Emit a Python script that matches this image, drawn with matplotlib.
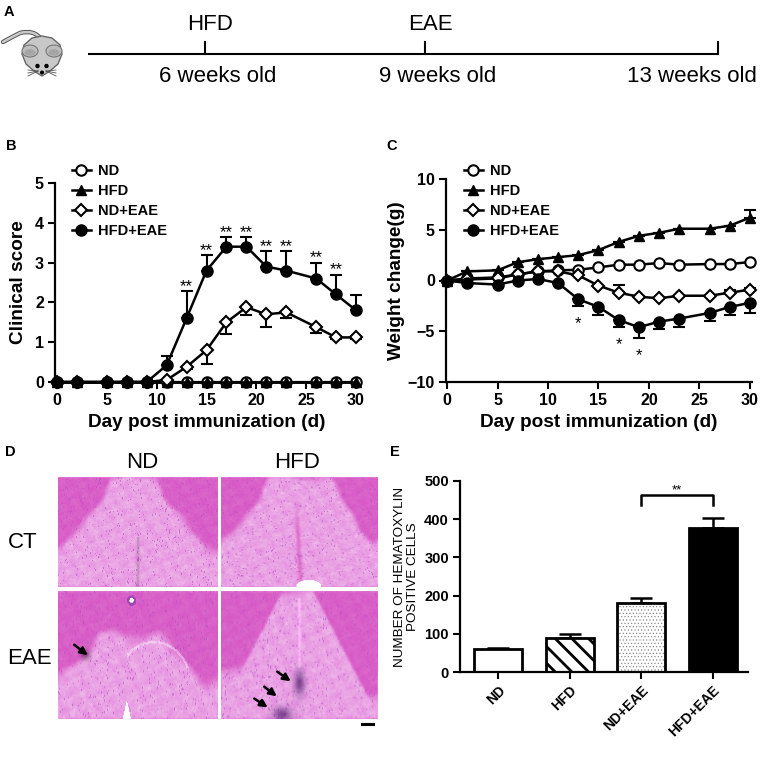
import numpy as np
import matplotlib
matplotlib.use("Agg")
import matplotlib.pyplot as plt
from matplotlib.lines import Line2D
from matplotlib.patches import Ellipse, Polygon, Circle, FancyArrowPatch
from matplotlib.path import Path
from matplotlib.patches import PathPatch

plt.rcParams['font.family'] = ['Liberation Sans', 'DejaVu Sans']

# ---------------- data ----------------
days = [0, 2, 5, 7, 9, 11, 13, 15, 17, 19, 21, 23, 26, 28, 30]
series_names = ["ND", "HFD", "ND+EAE", "HFD+EAE"]

# Panel B: clinical score
score_nd = [0] * 15
score_hfd = [0] * 15
score_nd_eae = [0, 0, 0, 0, 0, 0.05, 0.38, 0.8, 1.5, 1.88, 1.7, 1.75, 1.38, 1.12, 1.12]
score_nd_eae_err = [0, 0, 0, 0, 0, 0, 0.05, 0.35, 0.3, 0.2, 0.32, 0.15, 0.15, 0.05, 0.05]
score_hfd_eae = [0, 0, 0, 0, 0, 0.42, 1.6, 2.8, 3.4, 3.4, 2.9, 2.8, 2.6, 2.2, 1.8]
score_hfd_eae_err = [0, 0, 0, 0, 0, 0.23, 0.68, 0.38, 0.25, 0.25, 0.4, 0.5, 0.4, 0.5, 0.38]
score_sig_days = [13, 15, 17, 19, 21, 23, 26, 28]

# Panel C: weight change (g)
wt_nd = [0, 0.2, 0.3, 0.6, 0.9, 1.0, 1.06, 1.29, 1.56, 1.56, 1.72, 1.56, 1.62, 1.62, 1.82]
wt_hfd = [0, 0.9, 1.0, 1.8, 2.1, 2.3, 2.5, 3.0, 3.8, 4.4, 4.7, 5.1, 5.1, 5.4, 6.2]
wt_hfd_err = [0, 0, 0, 0, 0, 0, 0, 0, 0, 0, 0, 0, 0, 0, 0.7]
wt_nd_eae = [0, 0.1, 0.2, 0.6, 0.9, 0.9, 0.5, -0.5, -1.2, -1.6, -1.75, -1.5, -1.5, -1.2, -0.9]
wt_nd_eae_err = [0, 0, 0, 0, 0, 0, 0, 0, 0.75, 0, 0, 0, 0, 0.3, 0.2]
wt_hfd_eae = [0, -0.25, -0.4, 0, 0.15, -0.25, -1.85, -2.6, -3.9, -4.6, -4.05, -3.75, -3.2, -2.6, -2.2]
wt_hfd_eae_err = [0, 0, 0, 0, 0, 0, 0.65, 0.8, 0.7, 1.1, 0.75, 0.85, 0.8, 0.8, 1.05]
wt_sig_days = [13, 17, 19]

# Panel E: hematoxylin positive cells
e_cats = ["ND", "HFD", "ND+EAE", "HFD+EAE"]
e_vals = [60, 90, 180, 378]
e_err = [3, 9, 15, 26]
e_sig_pair = (2, 3)
e_sig_y = 463
e_sig_leg = 437

# Panel A: timeline
tl_weeks = [6, 9, 13]
tl_top = ["HFD", "EAE", ""]
tl_bottom = ["6 weeks old", "9 weeks old", "13 weeks old"]
tl_start = 4.4

# ---------------- figure ----------------
W, H = 762, 757
fig = plt.figure(figsize=(W / 100, H / 100), dpi=100)


def add_ax(x0, y0, x1, y1):
    return fig.add_axes([x0 / W, 1 - y1 / H, (x1 - x0) / W, (y1 - y0) / H])


def ftext(x, y, s, **kw):
    fig.text(x / W, 1 - y / H, s, **kw)


def fxy(x, y):
    return (x / W, 1 - y / H)


# panel letters
for lab, (x, y) in zip("ABCDE", [(4, 12), (6, 146), (386, 146), (5, 452), (390, 452)]):
    ftext(x, y, lab, fontsize=10.5, fontweight='bold', va='center', ha='left')

# ---------------- Panel A ----------------
axA = add_ax(0, 0, 762, 130)
px_per_week = (718 - 205) / 7.0
axA.set_xlim(6 - 205 / px_per_week, 6 + (762 - 205) / px_per_week)
axA.set_ylim(130, 0)
axA.axis('off')
axA.plot([tl_start, tl_weeks[-1]], [54, 54], color='black', lw=1.5, solid_capstyle='butt')
for wk, top, bot in zip(tl_weeks, tl_top, tl_bottom):
    axA.plot([wk, wk], [42, 54], color='black', lw=1.5)
    if top:
        axA.text(wk + 0.07, 24, top, fontsize=16, ha='center', va='center')
    if wk == tl_weeks[-1]:
        axA.text(wk + 0.53, 77, bot, fontsize=16, ha='right', va='center')
    else:
        axA.text(wk + 0.17, 77, bot, fontsize=16, ha='center', va='center')

# mouse icon
axM = add_ax(0, 28, 66, 82)
axM.set_xlim(0, 66)
axM.set_ylim(82, 28)
axM.axis('off')
tail = Path([(42, 40), (34, 29), (20, 33), (10, 38), (3, 42)],
            [Path.MOVETO, Path.CURVE3, Path.CURVE3, Path.CURVE3, Path.CURVE3])
axM.add_patch(PathPatch(tail, fill=False, lw=3.2, color='#555555', capstyle='round'))
axM.add_patch(PathPatch(tail, fill=False, lw=1.8, color='#c9c9c9', capstyle='round'))
body = Polygon([(22, 54), (24, 45), (32, 38), (42, 36), (52, 38), (60, 45), (62, 54),
                (58, 64), (50, 71), (42, 76), (34, 71), (26, 64)], closed=True,
               facecolor='#c8c8c8', edgecolor='#666666', lw=1.0)
axM.add_patch(body)
for cx in (30, 54):
    axM.add_patch(Ellipse((cx, 51), 16, 12, facecolor='#bdbdbd', edgecolor='#777777', lw=0.8))
    axM.add_patch(Ellipse((cx, 52.5), 11, 6.5, facecolor='#a5a5a5', edgecolor='none'))
for cx in (37.5, 46.5):
    axM.add_patch(Circle((cx, 66), 1.5, color='black'))
axM.add_patch(Circle((42, 72.5), 1.3, color='black'))
for sgn in (-1, 1):
    for dy in (-3, 0, 3):
        axM.plot([42 + sgn * 4, 42 + sgn * 14], [71, 71 + dy + 2], color='#555555', lw=0.6)

# ---------------- line panel helper ----------------
styles = {
    "ND": dict(marker='o', mfc='white', mec='black', ms=7.5, mew=1.5),
    "HFD": dict(marker='^', mfc='black', mec='black', ms=7.5, mew=1.0),
    "ND+EAE": dict(marker='D', mfc='white', mec='black', ms=6.5, mew=1.5),
    "HFD+EAE": dict(marker='o', mfc='black', mec='black', ms=8, mew=1.0),
}


def style_axes(ax):
    for s in ('top', 'right'):
        ax.spines[s].set_visible(False)
    for s in ('left', 'bottom'):
        ax.spines[s].set_linewidth(1.6)
    ax.tick_params(direction='out', length=5, width=1.5, labelsize=11.5, pad=3)
    for lab in ax.get_xticklabels() + ax.get_yticklabels():
        lab.set_fontweight('bold')


def draw_series(ax, name, y, err=None, up=True):
    st = styles[name]
    if err is not None:
        e = np.array(err, dtype=float)
        z = np.zeros_like(e)
        yerr = [z, e] if up else [e, z]
        ax.errorbar(days, y, yerr=yerr, fmt='none', ecolor='black', elinewidth=1.5,
                    capsize=4, capthick=1.5, zorder=2, clip_on=False)
    ax.plot(days, y, color='black', lw=1.8, zorder=3, clip_on=False, **st)


def add_legend(ax, x, y):
    handles = [Line2D([], [], color='black', lw=1.8, **styles[n]) for n in series_names]
    leg = ax.legend(handles, series_names, loc='upper left', bbox_to_anchor=fxy(x, y),
                    bbox_transform=fig.transFigure, frameon=False, handlelength=1.3,
                    handletextpad=0.45, labelspacing=0.42, borderpad=0, borderaxespad=0,
                    prop=dict(size=10.5, weight='bold'))
    leg.set_zorder(10)


# ---------------- Panel B ----------------
axB = add_ax(55, 183, 359, 382)
draw_series(axB, "ND", score_nd)
draw_series(axB, "HFD", score_hfd)
draw_series(axB, "ND+EAE", score_nd_eae, score_nd_eae_err, up=False)
draw_series(axB, "HFD+EAE", score_hfd_eae, score_hfd_eae_err, up=True)
axB.set_xlim(-0.2, 30.3)
axB.set_ylim(0, 5)
axB.set_xticks([0, 5, 10, 15, 20, 25, 30])
axB.set_yticks([0, 1, 2, 3, 4, 5])
style_axes(axB)
axB.set_xlabel("Day post immunization (d)", fontsize=13.7, fontweight='bold', labelpad=4)
axB.set_ylabel("Clinical score", fontsize=13.7, fontweight='bold', labelpad=6)
for d in score_sig_days:
    i = days.index(d)
    axB.annotate("**", (d, score_hfd_eae[i] + score_hfd_eae_err[i]), xytext=(0, 0),
                 textcoords='offset points', ha='center', va='baseline', fontsize=12)
add_legend(axB, 72, 164)

# ---------------- Panel C ----------------
axC = add_ax(446, 179, 752, 382)
draw_series(axC, "ND", wt_nd)
draw_series(axC, "HFD", wt_hfd, wt_hfd_err, up=True)
draw_series(axC, "ND+EAE", wt_nd_eae, wt_nd_eae_err, up=True)
draw_series(axC, "HFD+EAE", wt_hfd_eae, wt_hfd_eae_err, up=False)
axC.set_xlim(-0.1, 30.2)
axC.set_ylim(-10, 10)
axC.set_xticks([0, 5, 10, 15, 20, 25, 30])
axC.set_yticks([-10, -5, 0, 5, 10])
style_axes(axC)
axC.set_xlabel("Day post immunization (d)", fontsize=13.7, fontweight='bold', labelpad=4)
axC.set_ylabel("Weight change(g)", fontsize=13.7, fontweight='bold', labelpad=2)
for d in wt_sig_days:
    i = days.index(d)
    axC.annotate("*", (d, wt_hfd_eae[i] - wt_hfd_eae_err[i]), xytext=(0, -16),
                 textcoords='offset points', ha='center', va='baseline', fontsize=12)
add_legend(axC, 464, 164)


# ---------------- Panel D (stained section illustrations) ----------------
def smooth(a, n=2):
    for _ in range(n):
        a = (a + np.roll(a, 1, 0) + np.roll(a, -1, 0) + np.roll(a, 1, 1) + np.roll(a, -1, 1)) / 5.0
    return a


def int_hash(ii, jj, seed):
    M = np.uint64(0xFFFFFFFF)
    h = (ii.astype(np.uint64) * np.uint64(374761393) + jj.astype(np.uint64) * np.uint64(668265263)
         + np.uint64(seed) * np.uint64(1442695041)) & M
    h = ((h ^ (h >> np.uint64(13))) * np.uint64(1274126177)) & M
    h = h ^ (h >> np.uint64(16))
    return (h % np.uint64(100003)).astype(float) / 100003.0


def tissue(kind, h=110, w=160):
    v, u = np.mgrid[0:1:h * 1j, 0:1:w * 1j]
    ii, jj = np.mgrid[0:h, 0:w]
    wav = 0.03 * np.sin(u * 17 + 1.3 * kind) + 0.02 * np.sin(v * 23)
    if kind == 0:
        b = 0.66 * np.maximum(np.clip((0.33 - u) / 0.3, 0, 1) ** 0.8,
                              np.clip((u - 0.62) / 0.3, 0, 1) ** 0.8)
    elif kind == 1:
        b = 0.6 * np.maximum(np.clip((0.3 - u) / 0.28, 0, 1) ** 0.8,
                             np.clip((u - 0.7) / 0.27, 0, 1) ** 0.8)
    elif kind == 2:
        b = 0.36 + 0.36 * np.clip((np.abs(u - 0.45) - 0.18) / 0.3, 0, 1)
    else:
        b = np.where(np.abs(u - 0.49) < 0.1 + 0.42 * v, 0.0,
                     0.62 + 0.25 * np.clip((u - 0.65) / 0.3, 0, 1))
    light = np.clip((v - b + wav) * 12 + 0.5, 0, 1)
    light = smooth(light, 2)
    dark_c = np.array([217, 96, 200]) / 255.0
    light_c = np.array([234, 162, 228]) / 255.0
    img = dark_c * (1 - light[..., None]) + light_c * light[..., None]
    noise = smooth(int_hash(ii, jj, kind + 1) - 0.5, 1)
    mott = 0.03 * np.sin(u * 47 + v * 13) * np.sin(v * 39 - u * 11) + 0.15 * noise
    img = img + (mott * (0.6 + 0.6 * light))[..., None] * np.array([0.25, 1.0, 0.25])
    hsh = int_hash(ii, jj, kind + 7)
    cells = (hsh > 0.975) | (np.roll(hsh, 1, 0) > 0.988)
    cell_c = np.array([178, 78, 196]) / 255.0
    img[cells] = 0.45 * img[cells] + 0.55 * cell_c
    if kind == 0:
        line = np.exp(-((u - 0.5) / 0.01) ** 2) * (v > 0.55)
        img = img * (1 - 0.15 * line[..., None])
    if kind == 1:
        line = np.exp(-((u - 0.47 - 0.04 * v) / 0.015) ** 2) * np.clip((v - 0.15) * 3, 0, 1)
        img = img * (1 - np.array([0.05, 0.3, 0.1]) * line[..., None])
        notch = np.hypot((u - 0.56) / 0.08, (v - 1.0) / 0.06) < 1
        img[notch] = 1.0
    if kind == 2:
        rr = np.hypot((u - 0.46) * 1.45, (v - 0.07))
        img[np.abs(rr - 0.03) < 0.012] = cell_c * 0.9
        img[rr < 0.02] = 1.0
        spot = np.exp(-(((u - 0.17) / 0.03) ** 2 + ((v - 0.5) / 0.04) ** 2))
        img = img * (1 - 0.35 * spot[..., None])
        arc = np.abs(np.hypot((u - 0.6) * 1.4, (v - 0.72)) - 0.32) < 0.01
        sel = arc & (v < 0.6) & (u > 0.43)
        img[sel] = 0.6 * img[sel] + 0.4
        crack = (np.abs(u - 0.43) < 0.025 * (v - 0.85) / 0.15) & (v > 0.85)
        img[crack] = 1.0
    if kind == 3:
        inf = np.exp(-(((u - 0.5) / 0.035) ** 2 + ((v - 0.72) / 0.1) ** 2)) + \
            np.exp(-(((u - 0.39) / 0.06) ** 2 + ((v - 0.97) / 0.06) ** 2))
        img = img * (1 - np.array([0.45, 0.55, 0.35]) * np.clip(inf, 0, 1)[..., None])
        line = np.exp(-((u - 0.5) / 0.008) ** 2) * (v < 0.6) * (v > 0.05)
        img = img + 0.1 * line[..., None]
    return np.clip(img, 0, 1)


img_boxes = [(58, 477, 218, 587), (221, 477, 378, 587), (58, 591, 218, 719), (221, 591, 378, 719)]
for k, box in enumerate(img_boxes):
    ax = add_ax(*box)
    ax.imshow(tissue(k), aspect='auto', interpolation='bilinear')
    ax.axis('off')

ftext(142, 463, "ND", fontsize=16, ha='center', va='center')
ftext(297, 463, "HFD", fontsize=16, ha='center', va='center')
ftext(8, 542, "CT", fontsize=16, ha='left', va='center')
ftext(7, 658, "EAE", fontsize=16, ha='left', va='center')

arrows = [((72, 643), (90, 657)), ((275, 670), (293, 683)), ((262, 685), (279, 698)),
          ((252, 697), (270, 709))]
for (x0, y0), (x1, y1) in arrows:
    fig.patches.append(FancyArrowPatch(
        fxy(x0, y0), fxy(x1, y1), transform=fig.transFigure, arrowstyle='-|>',
        mutation_scale=11, lw=1.8, color='black'))
fig.add_artist(Line2D([362 / W, 373 / W], [1 - 724 / H, 1 - 724 / H], color='black', lw=2.2))

# ---------------- Panel E ----------------
axE = add_ax(460, 481, 748, 672)
x = np.arange(len(e_cats))
face = ['white', 'white', 'white', 'black']
hatches = [None, '\\\\', '.....', None]
for i in range(len(e_cats)):
    axE.errorbar(x[i], e_vals[i], yerr=[[0], [e_err[i]]], fmt='none', ecolor='black',
                 elinewidth=1.8, capsize=8, capthick=1.8, zorder=1)
    if i == 2:
        b = axE.bar(x[i], e_vals[i], width=0.67, color=face[i], edgecolor='#8c8c8c',
                    hatch=hatches[i], lw=0, zorder=2)
        for p in b:
            if hasattr(p, 'set_hatch_linewidth'):
                p.set_hatch_linewidth(0.5)
        axE.bar(x[i], e_vals[i], width=0.67, fill=False, edgecolor='black', lw=2, zorder=3)
    else:
        b = axE.bar(x[i], e_vals[i], width=0.67, color=face[i], edgecolor='black',
                    hatch=hatches[i], lw=2, zorder=2)
        for p in b:
            if hasattr(p, 'set_hatch_linewidth'):
                p.set_hatch_linewidth(2.0)
axE.set_xlim(-0.53, 3.49)
axE.set_ylim(0, 500)
axE.set_yticks([0, 100, 200, 300, 400, 500])
axE.set_xticks(x)
axE.set_xticklabels(e_cats)
style_axes(axE)
axE.tick_params(labelsize=10.5)
for lab in axE.get_xticklabels():
    lab.set_rotation(45)
    lab.set_ha('right')
    lab.set_rotation_mode('anchor')
    lab.set_fontsize(10)
axE.set_ylabel("NUMBER OF HEMATOXYLIN\nPOSITIVE CELLS", fontsize=9.7, linespacing=1.05, labelpad=4)
a, bb = e_sig_pair
axE.plot([a, a, bb, bb], [e_sig_leg, e_sig_y, e_sig_y, e_sig_leg], color='black', lw=1.8)
axE.annotate("**", ((a + bb) / 2, e_sig_y), xytext=(0, 1), textcoords='offset points',
             ha='center', va='baseline', fontsize=9.5)

fig.savefig("out.png", dpi=100)
